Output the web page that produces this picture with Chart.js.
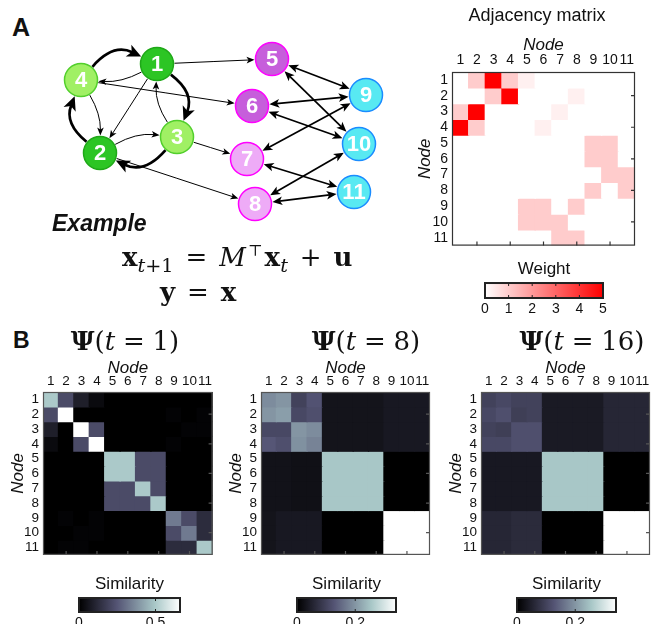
<!DOCTYPE html>
<html>
<head>
<meta charset="utf-8">
<script src="https://cdn.jsdelivr.net/npm/chart.js@4.4.1/dist/chart.umd.min.js"></script>
<style>
  html, body { margin: 0; padding: 0; background: #fff; }
  #fig { position: relative; width: 662px; height: 624px; overflow: hidden; background: #fff;
         font-family: 'Liberation Sans', Arial, sans-serif; color: #111; }
  #fig canvas { position: absolute; }
  .txt { position: absolute; white-space: nowrap; line-height: 1; }
  .c { transform: translateX(-50%); }
  .serif { font-family: 'DejaVu Serif', 'Liberation Serif', serif; }
  .op { margin: 0 0.3em; }
  .eq .op { margin: 0 0.46em; }
  .sub { font-size: 0.74em; position: relative; top: 0.3em; }
  .sup { font-size: 0.6em; position: relative; top: -0.62em; margin-left: 2px; margin-right: 2px; }
</style>
</head>
<body>
<div id="fig">
  <canvas id="net" width="360" height="200" style="left:40px;top:30px"></canvas>
  <canvas id="adj" width="240" height="258" style="left:400px;top:0px"></canvas>
  <canvas id="adjBar" width="138" height="59" style="left:475px;top:259px"></canvas>
  <canvas id="sim1" width="215" height="212" style="left:0px;top:355px"></canvas>
  <canvas id="sim8" width="215" height="212" style="left:218px;top:355px"></canvas>
  <canvas id="sim16" width="215" height="212" style="left:438px;top:355px"></canvas>
  <canvas id="bar1" width="121" height="58" style="left:69px;top:574px"></canvas>
  <canvas id="bar8" width="119" height="58" style="left:287px;top:574px"></canvas>
  <canvas id="bar16" width="119" height="58" style="left:507px;top:574px"></canvas>

  <div class="txt" style="left:12px;top:15px;font-size:25px;font-weight:bold">A</div>
  <div class="txt" style="left:13px;top:329px;font-size:23px;font-weight:bold">B</div>
  <div class="txt c" style="left:537px;top:6px;font-size:18px">Adjacency matrix</div>
  <div class="txt" style="left:52px;top:212px;font-size:23px;font-weight:bold;font-style:italic">Example</div>
  <div class="txt serif eq" style="left:122px;top:244px;font-size:26px">
    <b>x</b><span class="sub"><i>t</i>+1</span><span class="op">=</span><i>M</i><span class="sup">&#8868;</span><b>x</b><span class="sub"><i>t</i></span><span class="op">+</span><b>u</b>
  </div>
  <div class="txt serif eq" style="left:160px;top:279px;font-size:26px">
    <b>y</b><span class="op">=</span><b>x</b>
  </div>
  <div class="txt serif c" style="left:125px;top:328px;font-size:26px"><b>&Psi;</b>(<i>t</i><span class="op">=</span>1)</div>
  <div class="txt serif c" style="left:366px;top:328px;font-size:26px"><b>&Psi;</b>(<i>t</i><span class="op">=</span>8)</div>
  <div class="txt serif c" style="left:582px;top:328px;font-size:26px"><b>&Psi;</b>(<i>t</i><span class="op">=</span>16)</div>
</div>
<script>
Chart.defaults.font.family = "'Liberation Sans', Arial, sans-serif";
Chart.defaults.color = '#111';

const nodeLabels = ['1', '2', '3', '4', '5', '6', '7', '8', '9', '10', '11'];

// network layout, in figure pixels
const nodeX = [157, 100, 177, 81, 272, 252, 247, 255, 366, 359, 354];
const nodeY = [64, 153, 137, 80, 59, 106, 159, 204, 95, 144, 192];
const nodeFill   = ['#2cc524', '#2cc524', '#a0f064', '#a0f064', '#c65edb', '#c65edb',
                    '#eeabf7', '#eeabf7', '#58e9f2', '#58e9f2', '#58e9f2'];
const nodeStroke = ['#1fa818', '#1fa818', '#52cf2c', '#52cf2c', '#ff00ff', '#ff00ff',
                    '#ff00ff', '#ff00ff', '#1a8cff', '#1a8cff', '#1a8cff'];

// edges: [from, to, style, bend]
const edges = [
  [4, 1, 'heavy', -0.38], [1, 3, 'heavy', -0.38], [3, 2, 'heavy', -0.38], [2, 4, 'heavy', -0.36],
  [1, 4, 'light', -0.14], [4, 2, 'light', -0.14], [2, 3, 'light', -0.16], [3, 1, 'light', -0.16],
  [1, 2, 'light', 0],
  [1, 5, 'light', 0], [4, 6, 'light', 0], [3, 7, 'light', 0], [2, 8, 'light', 0],
  [5, 9, 'both', 0], [5, 10, 'both', 0], [6, 9, 'both', 0], [6, 10, 'both', 0],
  [7, 9, 'both', 0], [7, 11, 'both', 0], [8, 10, 'both', 0], [8, 11, 'both', 0]
];

// adjacency weights (row = source, col = target)
const adjWeights = [
  [0, 1, 5, 1, 0.3, 0, 0, 0, 0, 0, 0],
  [0, 0, 1, 5, 0, 0, 0, 0.3, 0, 0, 0],
  [1, 5, 0, 0, 0, 0, 0.3, 0, 0, 0, 0],
  [5, 1, 0, 0, 0, 0.3, 0, 0, 0, 0, 0],
  [0, 0, 0, 0, 0, 0, 0, 0, 1, 1, 0],
  [0, 0, 0, 0, 0, 0, 0, 0, 1, 1, 0],
  [0, 0, 0, 0, 0, 0, 0, 0, 0, 1, 1],
  [0, 0, 0, 0, 0, 0, 0, 0, 1, 0, 1],
  [0, 0, 0, 0, 1, 1, 0, 1, 0, 0, 0],
  [0, 0, 0, 0, 1, 1, 1, 0, 0, 0, 0],
  [0, 0, 0, 0, 0, 0, 1, 1, 0, 0, 0]
];
const weightMax = 5;
const weightTicks = [0, 1, 2, 3, 4, 5];

const simT1 = [
  [0.50, 0.22, 0.09, 0.03, 0, 0, 0, 0, 0, 0, 0],
  [0.22, 0.70, 0, 0, 0, 0, 0, 0, 0.01, 0, 0.01],
  [0.09, 0, 0.70, 0.22, 0, 0, 0, 0, 0, 0.01, 0.01],
  [0.03, 0, 0.22, 0.70, 0, 0, 0, 0, 0.01, 0, 0],
  [0, 0, 0, 0, 0.50, 0.50, 0.22, 0.22, 0, 0, 0],
  [0, 0, 0, 0, 0.50, 0.50, 0.22, 0.22, 0, 0, 0],
  [0, 0, 0, 0, 0.22, 0.22, 0.50, 0.22, 0, 0, 0],
  [0, 0, 0, 0, 0.22, 0.22, 0.22, 0.50, 0, 0, 0],
  [0, 0.01, 0, 0.01, 0, 0, 0, 0, 0.33, 0.22, 0.13],
  [0, 0, 0.01, 0.01, 0, 0, 0, 0, 0.22, 0.33, 0.13],
  [0, 0.01, 0.01, 0, 0, 0, 0, 0, 0.13, 0.13, 0.50]
];
const simT8 = [
  [0.19, 0.20, 0.10, 0.125, 0.03, 0.03, 0.03, 0.03, 0.037, 0.037, 0.037],
  [0.20, 0.21, 0.11, 0.12, 0.03, 0.03, 0.03, 0.03, 0.037, 0.037, 0.037],
  [0.11, 0.11, 0.20, 0.19, 0.03, 0.03, 0.03, 0.03, 0.037, 0.037, 0.037],
  [0.13, 0.12, 0.195, 0.18, 0.03, 0.03, 0.03, 0.03, 0.037, 0.037, 0.037],
  [0.027, 0.027, 0.024, 0.024, 0.255, 0.255, 0.255, 0.255, 0, 0, 0],
  [0.027, 0.027, 0.024, 0.024, 0.255, 0.255, 0.255, 0.255, 0, 0, 0],
  [0.027, 0.027, 0.024, 0.024, 0.255, 0.255, 0.255, 0.255, 0, 0, 0],
  [0.027, 0.027, 0.024, 0.024, 0.255, 0.255, 0.255, 0.255, 0, 0, 0],
  [0.03, 0.037, 0.037, 0.037, 0, 0, 0, 0, 0.36, 0.36, 0.36],
  [0.03, 0.037, 0.037, 0.037, 0, 0, 0, 0, 0.36, 0.36, 0.36],
  [0.03, 0.037, 0.037, 0.037, 0, 0, 0, 0, 0.36, 0.36, 0.36]
];
const simT16 = [
  [0.10, 0.11, 0.10, 0.10, 0.04, 0.04, 0.04, 0.04, 0.058, 0.058, 0.058],
  [0.11, 0.12, 0.095, 0.10, 0.04, 0.04, 0.04, 0.04, 0.058, 0.058, 0.058],
  [0.10, 0.095, 0.12, 0.12, 0.04, 0.04, 0.04, 0.04, 0.058, 0.058, 0.058],
  [0.11, 0.11, 0.12, 0.12, 0.04, 0.04, 0.04, 0.04, 0.058, 0.058, 0.058],
  [0.037, 0.037, 0.037, 0.037, 0.255, 0.255, 0.255, 0.255, 0, 0, 0],
  [0.037, 0.037, 0.037, 0.037, 0.255, 0.255, 0.255, 0.255, 0, 0, 0],
  [0.037, 0.037, 0.037, 0.037, 0.255, 0.255, 0.255, 0.255, 0, 0, 0],
  [0.037, 0.037, 0.037, 0.037, 0.255, 0.255, 0.255, 0.255, 0, 0, 0],
  [0.058, 0.058, 0.065, 0.065, 0, 0, 0, 0, 0.36, 0.36, 0.36],
  [0.058, 0.058, 0.065, 0.065, 0, 0, 0, 0, 0.36, 0.36, 0.36],
  [0.058, 0.058, 0.065, 0.065, 0, 0, 0, 0, 0.36, 0.36, 0.36]
];
const simMax   = [0.66, 0.34, 0.34];
const simTicks = [[0, 0.5], [0, 0.2], [0, 0.2]];

/* ── colour maps ─────────────────────────────────────── */
const boneStops = [[0, [0, 0, 0]], [0.375, [84, 84, 116]], [0.75, [168, 199, 199]], [1, [255, 255, 255]]];
const redStops  = [[0, [255, 255, 255]], [1, [255, 0, 0]]];

function cmap(stops, t) {
  t = Math.max(0, Math.min(1, t));
  for (let i = 1; i < stops.length; i++) {
    const [p1, c1] = stops[i], [p0, c0] = stops[i - 1];
    if (t <= p1) {
      const f = (t - p0) / (p1 - p0);
      return `rgb(${c0.map((v, k) => Math.round(v + (c1[k] - v) * f)).join(',')})`;
    }
  }
  return `rgb(${stops[stops.length - 1][1].join(',')})`;
}

/* ── network ─────────────────────────────────────────── */
const edgeStyle = {
  heavy: { lw: 2.7, head: 14, half: 6.5, both: false },
  light: { lw: 1, head: 8, half: 3.3, both: false },
  both:  { lw: 1.7, head: 10, half: 4.3, both: true }
};
const nodeR = 17.5;

function arrowHead(ctx, tip, u, st) {
  // u points from tip back along the line
  const bx = tip.x + u.x * st.head, by = tip.y + u.y * st.head;
  ctx.beginPath();
  ctx.moveTo(tip.x, tip.y);
  ctx.lineTo(bx - u.y * st.half, by + u.x * st.half);
  ctx.lineTo(tip.x + u.x * st.head * 0.75, tip.y + u.y * st.head * 0.75);
  ctx.lineTo(bx + u.y * st.half, by - u.x * st.half);
  ctx.closePath();
  ctx.fill();
}

const edgePlugin = {
  id: 'edges',
  beforeDatasetsDraw(chart) {
    const { ctx, scales: { x, y } } = chart;
    const pos = n => ({ x: x.getPixelForValue(nodeX[n - 1]), y: y.getPixelForValue(nodeY[n - 1]) });
    const unit = (P, Q) => { const d = Math.hypot(Q.x - P.x, Q.y - P.y); return { x: (Q.x - P.x) / d, y: (Q.y - P.y) / d }; };
    ctx.save();
    ctx.strokeStyle = '#000';
    ctx.fillStyle = '#000';
    edges.forEach(([a, b, kind, bend]) => {
      const st = edgeStyle[kind];
      const A = pos(a), B = pos(b);
      const dx = B.x - A.x, dy = B.y - A.y;
      const C = { x: (A.x + B.x) / 2 - dy * bend, y: (A.y + B.y) / 2 + dx * bend };
      const uS = unit(A, C), uE = unit(B, C);
      const S = { x: A.x + uS.x * nodeR, y: A.y + uS.y * nodeR };
      const E = { x: B.x + uE.x * nodeR, y: B.y + uE.y * nodeR };
      const S2 = st.both ? { x: S.x + uS.x * st.head * 0.7, y: S.y + uS.y * st.head * 0.7 } : S;
      const E2 = { x: E.x + uE.x * st.head * 0.7, y: E.y + uE.y * st.head * 0.7 };
      ctx.lineWidth = st.lw;
      ctx.beginPath();
      ctx.moveTo(S2.x, S2.y);
      ctx.quadraticCurveTo(C.x, C.y, E2.x, E2.y);
      ctx.stroke();
      arrowHead(ctx, E, uE, st);
      if (st.both) arrowHead(ctx, S, uS, st);
    });
    ctx.restore();
  },
  afterDatasetsDraw(chart) {
    const { ctx, scales: { x, y } } = chart;
    ctx.save();
    ctx.fillStyle = '#fff';
    ctx.font = "bold 22px 'Liberation Sans', Arial, sans-serif";
    ctx.textAlign = 'center';
    ctx.textBaseline = 'middle';
    nodeLabels.forEach((lab, i) => {
      ctx.fillText(lab, x.getPixelForValue(nodeX[i]), y.getPixelForValue(nodeY[i]) + 1);
    });
    ctx.restore();
  }
};

new Chart(document.getElementById('net'), {
  type: 'scatter',
  data: {
    datasets: [{
      data: nodeX.map((v, i) => ({ x: v, y: nodeY[i] })),
      pointRadius: 16.5,
      pointHoverRadius: 16.5,
      pointBackgroundColor: nodeFill,
      pointBorderColor: nodeStroke,
      pointBorderWidth: 1.5,
      clip: false
    }]
  },
  options: {
    responsive: false, animation: false, devicePixelRatio: 1,
    layout: { padding: 0, autoPadding: false },
    plugins: { legend: { display: false }, tooltip: { enabled: false } },
    scales: {
      x: { type: 'linear', min: 40, max: 400, display: false },
      y: { type: 'linear', min: 30, max: 230, reverse: true, display: false }
    }
  },
  plugins: [edgePlugin]
});

/* ── heatmaps ────────────────────────────────────────── */
const framePlugin = {
  id: 'frame',
  beforeDatasetsDraw(chart, args, opts) {
    const { ctx, chartArea: a } = chart;
    ctx.save();
    ctx.fillStyle = opts.bg;
    ctx.fillRect(a.left, a.top, a.width, a.height);
    ctx.restore();
  },
  afterDatasetsDraw(chart, args, opts) {
    const { ctx, chartArea: a, scales: { x, y } } = chart;
    ctx.save();
    ctx.strokeStyle = opts.edge;
    ctx.lineWidth = 1.2;
    ctx.strokeRect(a.left + 0.5, a.top + 0.5, a.width - 1, a.height - 1);
    ctx.beginPath();
    for (let i = 1; i < nodeLabels.length; i += 2) {
      const px = x.getPixelForValue(i);
      ctx.moveTo(px, a.bottom); ctx.lineTo(px, a.bottom - 4);
      const py = y.getPixelForValue(i + 0.5);
      ctx.moveTo(a.right, py); ctx.lineTo(a.right - 4, py);
    }
    ctx.stroke();
    ctx.restore();
  }
};

function heatmapChart(id, matrix, colorOf, look) {
  const datasets = matrix.map((row, r) => ({
    data: row.map(() => [r, r + 1]),
    backgroundColor: row.map(colorOf),
    grouped: false,
    barPercentage: 1,
    categoryPercentage: 1,
    borderWidth: 0,
    inflateAmount: 0.6
  }));
  return new Chart(document.getElementById(id), {
    type: 'bar',
    data: { labels: nodeLabels, datasets },
    options: {
      responsive: false, animation: false, devicePixelRatio: 1,
      layout: { padding: look.pad, autoPadding: false },
      plugins: { legend: { display: false }, tooltip: { enabled: false }, frame: { bg: look.bg, edge: look.edge } },
      scales: {
        x: {
          position: 'top',
          grid: { display: false, drawTicks: false }, border: { display: false },
          ticks: { autoSkip: false, maxRotation: 0, padding: 3, font: { size: look.tick } },
          title: { display: true, text: 'Node', font: { size: 17, style: 'italic' }, padding: { top: look.titleTop, bottom: 0 } },
          afterFit: s => { s.height = look.axisH; }
        },
        y: {
          type: 'linear', min: 0, max: 11, reverse: true,
          grid: { display: false, drawTicks: false }, border: { display: false },
          afterBuildTicks: s => { s.ticks = nodeLabels.map((_, i) => ({ value: i + 0.5 })); },
          ticks: { autoSkip: false, padding: 4, font: { size: look.tick }, callback: (v, i) => nodeLabels[i] },
          title: { display: true, text: 'Node', font: { size: 17, style: 'italic' }, padding: 0 },
          afterFit: s => { s.width = look.axisW; }
        }
      }
    },
    plugins: [framePlugin]
  });
}

heatmapChart('adj', adjWeights, v => cmap(redStops, v / weightMax), {
  pad: { left: 15, top: 31, right: 5, bottom: 4 }, axisH: 41, axisW: 37, titleTop: 4, tick: 14, bg: '#fff', edge: '#333'
});
const simLook = right => ({
  pad: { left: 8, top: 0, right, bottom: 2 }, axisH: 37, axisW: 35, titleTop: 3, tick: 13.5, bg: '#000', edge: '#555'
});
heatmapChart('sim1', simT1, v => cmap(boneStops, v / simMax[0]), simLook(2));
heatmapChart('sim8', simT8, v => cmap(boneStops, v / simMax[1]), simLook(3));
heatmapChart('sim16', simT16, v => cmap(boneStops, v / simMax[2]), simLook(3));

/* ── colour bars ─────────────────────────────────────── */
const barFramePlugin = {
  id: 'barFrame',
  afterDatasetsDraw(chart) {
    const { ctx, chartArea: a, scales: { x } } = chart;
    ctx.save();
    ctx.strokeStyle = '#222';
    ctx.lineWidth = 2;
    ctx.strokeRect(a.left, a.top, a.width, a.height);
    ctx.lineWidth = 1;
    ctx.beginPath();
    x.ticks.forEach(t => {
      const px = x.getPixelForValue(t.value);
      if (px <= a.left + 1 || px >= a.right - 1) return;
      ctx.moveTo(px, a.top); ctx.lineTo(px, a.top + 3);
      ctx.moveTo(px, a.bottom); ctx.lineTo(px, a.bottom - 3);
    });
    ctx.stroke();
    ctx.restore();
  }
};

function colorbarChart(id, title, vmax, tickVals, stops, pad) {
  return new Chart(document.getElementById(id), {
    type: 'bar',
    data: {
      labels: [''],
      datasets: [{
        data: [[0, vmax]],
        barPercentage: 1, categoryPercentage: 1, borderWidth: 0,
        backgroundColor: c => {
          const a = c.chart.chartArea;
          if (!a) return 'transparent';
          const g = c.chart.ctx.createLinearGradient(a.left, 0, a.right, 0);
          stops.forEach(([p, col]) => g.addColorStop(p, `rgb(${col.join(',')})`));
          return g;
        }
      }]
    },
    options: {
      indexAxis: 'y',
      responsive: false, animation: false, devicePixelRatio: 1,
      layout: { padding: pad, autoPadding: false },
      plugins: {
        legend: { display: false }, tooltip: { enabled: false },
        title: { display: true, text: title, font: { size: 17, weight: 'normal', lineHeight: 1.06 }, padding: { top: 0, bottom: 5 } }
      },
      scales: {
        x: {
          min: 0, max: vmax,
          grid: { display: false, drawTicks: false }, border: { display: false },
          afterBuildTicks: s => { s.ticks = tickVals.map(v => ({ value: v })); },
          ticks: { padding: 3, font: { size: 14 }, callback: v => String(v) },
          afterFit: s => { s.height = 20; }
        },
        y: { display: false }
      }
    },
    plugins: [barFramePlugin]
  });
}

colorbarChart('adjBar', 'Weight', weightMax, weightTicks, redStops, { left: 10, right: 10, top: 1, bottom: 0 });
colorbarChart('bar1', 'Similarity', simMax[0], simTicks[0], boneStops, { left: 10, right: 10, top: 1, bottom: 0 });
colorbarChart('bar8', 'Similarity', simMax[1], simTicks[1], boneStops, { left: 10, right: 10, top: 1, bottom: 0 });
colorbarChart('bar16', 'Similarity', simMax[2], simTicks[2], boneStops, { left: 10, right: 10, top: 1, bottom: 0 });
</script>
</body>
</html>
